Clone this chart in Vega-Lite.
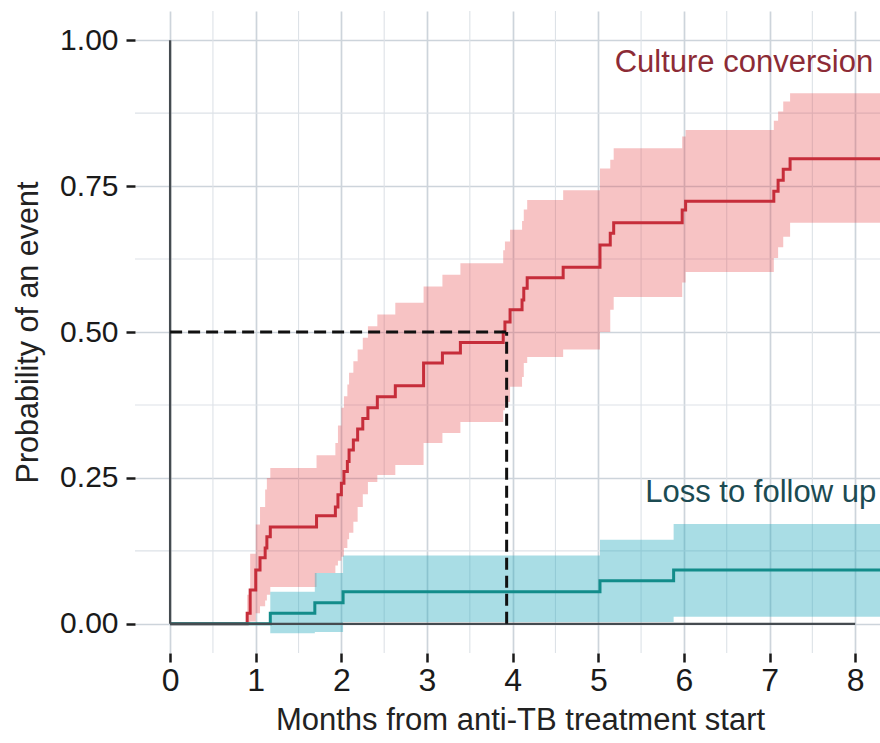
{
  "$schema": "https://vega.github.io/schema/vega-lite/v6.json",
  "width": 745,
  "height": 642,
  "autosize": {"type": "none"},
  "padding": {"left": 135, "top": 11, "right": 0, "bottom": 90},
  "background": "white",
  "config": {
    "view": {"stroke": null},
    "font": "Liberation Sans"
  },
  "datasets": {
    "est": [
      {"event": "Culture conversion", "t": 0, "p": 0},
      {"event": "Culture conversion", "t": 0.90, "p": 0.018},
      {"event": "Culture conversion", "t": 0.935, "p": 0.058},
      {"event": "Culture conversion", "t": 1.00, "p": 0.092},
      {"event": "Culture conversion", "t": 1.05, "p": 0.113},
      {"event": "Culture conversion", "t": 1.11, "p": 0.130},
      {"event": "Culture conversion", "t": 1.13, "p": 0.149},
      {"event": "Culture conversion", "t": 1.17, "p": 0.166},
      {"event": "Culture conversion", "t": 1.71, "p": 0.185},
      {"event": "Culture conversion", "t": 1.93, "p": 0.200},
      {"event": "Culture conversion", "t": 1.96, "p": 0.221},
      {"event": "Culture conversion", "t": 2.00, "p": 0.241},
      {"event": "Culture conversion", "t": 2.03, "p": 0.261},
      {"event": "Culture conversion", "t": 2.07, "p": 0.278},
      {"event": "Culture conversion", "t": 2.09, "p": 0.298},
      {"event": "Culture conversion", "t": 2.14, "p": 0.315},
      {"event": "Culture conversion", "t": 2.19, "p": 0.334},
      {"event": "Culture conversion", "t": 2.25, "p": 0.352},
      {"event": "Culture conversion", "t": 2.31, "p": 0.370},
      {"event": "Culture conversion", "t": 2.42, "p": 0.389},
      {"event": "Culture conversion", "t": 2.63, "p": 0.408},
      {"event": "Culture conversion", "t": 2.96, "p": 0.447},
      {"event": "Culture conversion", "t": 3.18, "p": 0.464},
      {"event": "Culture conversion", "t": 3.39, "p": 0.482},
      {"event": "Culture conversion", "t": 3.89, "p": 0.500},
      {"event": "Culture conversion", "t": 3.91, "p": 0.517},
      {"event": "Culture conversion", "t": 3.97, "p": 0.538},
      {"event": "Culture conversion", "t": 4.11, "p": 0.555},
      {"event": "Culture conversion", "t": 4.13, "p": 0.575},
      {"event": "Culture conversion", "t": 4.17, "p": 0.593},
      {"event": "Culture conversion", "t": 4.59, "p": 0.611},
      {"event": "Culture conversion", "t": 5.02, "p": 0.649},
      {"event": "Culture conversion", "t": 5.14, "p": 0.669},
      {"event": "Culture conversion", "t": 5.18, "p": 0.687},
      {"event": "Culture conversion", "t": 5.98, "p": 0.709},
      {"event": "Culture conversion", "t": 6.02, "p": 0.724},
      {"event": "Culture conversion", "t": 7.05, "p": 0.741},
      {"event": "Culture conversion", "t": 7.10, "p": 0.760},
      {"event": "Culture conversion", "t": 7.16, "p": 0.779},
      {"event": "Culture conversion", "t": 7.24, "p": 0.797},
      {"event": "Culture conversion", "t": 8.40, "p": 0.797},
      {"event": "Loss to follow up", "t": 0, "p": 0},
      {"event": "Loss to follow up", "t": 1.17, "p": 0.018},
      {"event": "Loss to follow up", "t": 1.69, "p": 0.036},
      {"event": "Loss to follow up", "t": 2.02, "p": 0.055},
      {"event": "Loss to follow up", "t": 5.02, "p": 0.074},
      {"event": "Loss to follow up", "t": 5.88, "p": 0.092},
      {"event": "Loss to follow up", "t": 8.40, "p": 0.092}
    ],
    "ci": [
      {"event": "Culture conversion", "t": 0.90, "lo": 0.000, "hi": 0.050},
      {"event": "Culture conversion", "t": 0.935, "lo": 0.004, "hi": 0.120},
      {"event": "Culture conversion", "t": 1.00, "lo": 0.018, "hi": 0.170},
      {"event": "Culture conversion", "t": 1.05, "lo": 0.030, "hi": 0.200},
      {"event": "Culture conversion", "t": 1.11, "lo": 0.040, "hi": 0.230},
      {"event": "Culture conversion", "t": 1.13, "lo": 0.050, "hi": 0.250},
      {"event": "Culture conversion", "t": 1.17, "lo": 0.063, "hi": 0.267},
      {"event": "Culture conversion", "t": 1.71, "lo": 0.087, "hi": 0.289},
      {"event": "Culture conversion", "t": 1.93, "lo": 0.100, "hi": 0.310},
      {"event": "Culture conversion", "t": 1.96, "lo": 0.108, "hi": 0.340},
      {"event": "Culture conversion", "t": 2.00, "lo": 0.115, "hi": 0.370},
      {"event": "Culture conversion", "t": 2.03, "lo": 0.130, "hi": 0.390},
      {"event": "Culture conversion", "t": 2.07, "lo": 0.145, "hi": 0.410},
      {"event": "Culture conversion", "t": 2.09, "lo": 0.156, "hi": 0.430},
      {"event": "Culture conversion", "t": 2.14, "lo": 0.175, "hi": 0.450},
      {"event": "Culture conversion", "t": 2.19, "lo": 0.200, "hi": 0.470},
      {"event": "Culture conversion", "t": 2.25, "lo": 0.222, "hi": 0.490},
      {"event": "Culture conversion", "t": 2.31, "lo": 0.243, "hi": 0.510},
      {"event": "Culture conversion", "t": 2.42, "lo": 0.255, "hi": 0.530},
      {"event": "Culture conversion", "t": 2.63, "lo": 0.272, "hi": 0.550},
      {"event": "Culture conversion", "t": 2.96, "lo": 0.310, "hi": 0.578},
      {"event": "Culture conversion", "t": 3.18, "lo": 0.327, "hi": 0.598},
      {"event": "Culture conversion", "t": 3.39, "lo": 0.346, "hi": 0.618},
      {"event": "Culture conversion", "t": 3.89, "lo": 0.366, "hi": 0.640},
      {"event": "Culture conversion", "t": 3.91, "lo": 0.380, "hi": 0.655},
      {"event": "Culture conversion", "t": 3.97, "lo": 0.406, "hi": 0.675},
      {"event": "Culture conversion", "t": 4.11, "lo": 0.423, "hi": 0.690},
      {"event": "Culture conversion", "t": 4.13, "lo": 0.447, "hi": 0.710},
      {"event": "Culture conversion", "t": 4.17, "lo": 0.457, "hi": 0.726},
      {"event": "Culture conversion", "t": 4.59, "lo": 0.470, "hi": 0.743},
      {"event": "Culture conversion", "t": 5.02, "lo": 0.500, "hi": 0.780},
      {"event": "Culture conversion", "t": 5.14, "lo": 0.538, "hi": 0.795},
      {"event": "Culture conversion", "t": 5.18, "lo": 0.560, "hi": 0.815},
      {"event": "Culture conversion", "t": 5.98, "lo": 0.585, "hi": 0.835},
      {"event": "Culture conversion", "t": 6.02, "lo": 0.603, "hi": 0.846},
      {"event": "Culture conversion", "t": 7.05, "lo": 0.627, "hi": 0.862},
      {"event": "Culture conversion", "t": 7.10, "lo": 0.645, "hi": 0.878},
      {"event": "Culture conversion", "t": 7.16, "lo": 0.663, "hi": 0.895},
      {"event": "Culture conversion", "t": 7.24, "lo": 0.687, "hi": 0.909},
      {"event": "Culture conversion", "t": 8.40, "lo": 0.687, "hi": 0.909},
      {"event": "Loss to follow up", "t": 1.17, "lo": -0.016, "hi": 0.055},
      {"event": "Loss to follow up", "t": 1.69, "lo": -0.014, "hi": 0.087},
      {"event": "Loss to follow up", "t": 2.02, "lo": 0.003, "hi": 0.117},
      {"event": "Loss to follow up", "t": 5.02, "lo": 0.003, "hi": 0.144},
      {"event": "Loss to follow up", "t": 5.88, "lo": 0.012, "hi": 0.171},
      {"event": "Loss to follow up", "t": 8.40, "lo": 0.012, "hi": 0.171}
    ],
    "minor_x": [{"t": 0.5}, {"t": 1.5}, {"t": 2.5}, {"t": 3.5}, {"t": 4.5}, {"t": 5.5}, {"t": 6.5}, {"t": 7.5}],
    "minor_y": [{"p": 0.125}, {"p": 0.375}, {"p": 0.625}, {"p": 0.875}],
    "frame": [
      {"t": 0, "p": 0, "t2": 0, "p2": 1},
      {"t": 0, "p": 0, "t2": 8, "p2": 0}
    ],
    "median": [
      {"t": 0, "p": 0.5, "t2": 3.93, "p2": 0.5},
      {"t": 3.93, "p": 0, "t2": 3.93, "p2": 0.5}
    ],
    "labels": [
      {"event": "Culture conversion", "t": 8.21, "p": 0.945},
      {"event": "Loss to follow up", "t": 8.245, "p": 0.209}
    ]
  },
  "layer": [
    {
      "data": {"name": "minor_x"},
      "mark": {"type": "rule", "color": "#dde2e7", "strokeWidth": 1.1},
      "encoding": {
        "x": {
          "field": "t", "type": "quantitative",
          "scale": {"domain": [-0.41, 8.29], "nice": false, "zero": false},
          "axis": {
            "values": [0, 1, 2, 3, 4, 5, 6, 7, 8],
            "format": "d",
            "grid": true, "gridColor": "#cdd4db", "gridWidth": 1.7,
            "domain": false,
            "ticks": true, "tickColor": "#1a1a1a", "tickWidth": 2.5, "tickSize": 9,
            "labelFont": "Liberation Sans", "labelFontSize": 32, "labelColor": "#1a1a1a", "labelPadding": 3,
            "title": "Months from anti-TB treatment start",
            "titleFont": "Liberation Sans", "titleFontSize": 31, "titleFontWeight": "normal", "titleColor": "#222222",
            "titlePadding": 9, "titleX": 385
          }
        }
      }
    },
    {
      "data": {"name": "minor_y"},
      "mark": {"type": "rule", "color": "#dde2e7", "strokeWidth": 1.1},
      "encoding": {
        "y": {
          "field": "p", "type": "quantitative",
          "scale": {"domain": [-0.05, 1.05], "nice": false, "zero": false},
          "axis": {
            "values": [0, 0.25, 0.5, 0.75, 1],
            "format": ".2f",
            "grid": true, "gridColor": "#cdd4db", "gridWidth": 1.7,
            "domain": false,
            "ticks": true, "tickColor": "#1a1a1a", "tickWidth": 2.5, "tickSize": 9,
            "labelFont": "Liberation Sans", "labelFontSize": 30, "labelColor": "#1a1a1a", "labelPadding": 8,
            "title": "Probability of an event",
            "titleFont": "Liberation Sans", "titleFontSize": 30.5, "titleFontWeight": "normal", "titleColor": "#222222",
            "titlePadding": 16
          }
        }
      }
    },
    {
      "data": {"name": "ci"},
      "transform": [{"filter": "datum.event === 'Culture conversion'"}],
      "mark": {"type": "area", "interpolate": "step-after", "color": "#e63c42", "opacity": 0.31, "clip": true},
      "encoding": {
        "x": {"field": "t", "type": "quantitative"},
        "y": {"field": "lo", "type": "quantitative"},
        "y2": {"field": "hi"}
      }
    },
    {
      "data": {"name": "ci"},
      "transform": [{"filter": "datum.event === 'Loss to follow up'"}],
      "mark": {"type": "area", "interpolate": "step-after", "color": "#28aabe", "opacity": 0.4, "clip": true},
      "encoding": {
        "x": {"field": "t", "type": "quantitative"},
        "y": {"field": "lo", "type": "quantitative"},
        "y2": {"field": "hi"}
      }
    },
    {
      "data": {"name": "est"},
      "mark": {"type": "line", "interpolate": "step-after", "strokeWidth": 3, "clip": true},
      "encoding": {
        "x": {"field": "t", "type": "quantitative"},
        "y": {"field": "p", "type": "quantitative"},
        "stroke": {
          "field": "event", "type": "nominal",
          "scale": {"domain": ["Culture conversion", "Loss to follow up"], "range": ["#c62d3a", "#128c8a"]},
          "legend": null
        }
      }
    },
    {
      "data": {"name": "frame"},
      "mark": {"type": "rule", "color": "#454b50", "strokeWidth": 2.3},
      "encoding": {
        "x": {"field": "t", "type": "quantitative"},
        "y": {"field": "p", "type": "quantitative"},
        "x2": {"field": "t2"},
        "y2": {"field": "p2"}
      }
    },
    {
      "data": {"name": "median"},
      "mark": {"type": "rule", "color": "#111111", "strokeWidth": 3, "strokeDash": [12, 6]},
      "encoding": {
        "x": {"field": "t", "type": "quantitative"},
        "y": {"field": "p", "type": "quantitative"},
        "x2": {"field": "t2"},
        "y2": {"field": "p2"}
      }
    },
    {
      "data": {"name": "labels"},
      "mark": {"type": "text", "align": "right", "baseline": "alphabetic", "font": "Liberation Sans", "fontSize": 31},
      "encoding": {
        "x": {"field": "t", "type": "quantitative"},
        "y": {"field": "p", "type": "quantitative"},
        "text": {"field": "event"},
        "color": {
          "field": "event", "type": "nominal",
          "scale": {"domain": ["Culture conversion", "Loss to follow up"], "range": ["#8c2b36", "#1c4b52"]},
          "legend": null
        }
      }
    }
  ]
}
